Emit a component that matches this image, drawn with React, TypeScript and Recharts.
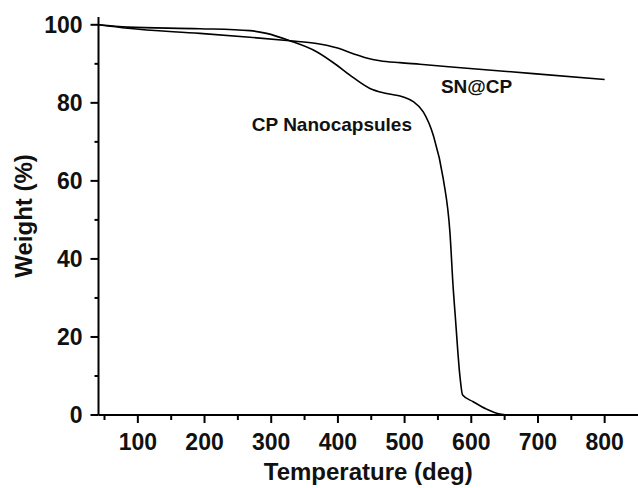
import { LineChart, Line, XAxis, YAxis, ReferenceDot } from 'recharts'

// CP Nanocapsules TGA curve
const cpTemp = [41, 85, 193, 268, 293, 328, 368, 398, 418, 448, 473, 498, 513, 528, 543, 558, 568, 573, 576, 583, 587, 603, 623, 643, 660, 800]
const cpWeight = [100, 99.4, 99.0, 98.5, 97.8, 95.9, 93.1, 89.7, 87.1, 83.7, 82.4, 81.5, 80.3, 77.7, 71.7, 60.5, 46.8, 32.2, 25.3, 9.9, 5.1, 3.4, 1.5, 0.25, 0, 0]

// SN@CP TGA curve
const snTemp = [41, 85, 193, 268, 328, 368, 398, 423, 443, 463, 493, 523, 598, 693, 800]
const snWeight = [100, 99.1, 97.8, 96.8, 95.9, 95.2, 94.1, 92.6, 91.5, 90.8, 90.3, 89.9, 88.8, 87.5, 86.0]

const xTicks = [50, 100, 150, 200, 250, 300, 350, 400, 450, 500, 550, 600, 650, 700, 750, 800]
const yTicks = [0, 10, 20, 30, 40, 50, 60, 70, 80, 90, 100]

const notes = [
  { text: 'SN@CP', t: 608, w: 84.2 },
  { text: 'CP Nanocapsules', t: 391, w: 74.6 },
]

const FONT = '"Liberation Sans", Arial, sans-serif'

const cpData = cpTemp.map((t, i) => ({ t, w: cpWeight[i] }))
const snData = snTemp.map((t, i) => ({ t, w: snWeight[i] }))

function XTick({ x, y, payload }: any) {
  const major = payload.value % 100 === 0
  return (
    <g>
      <line x1={x} y1={y} x2={x} y2={y + (major ? 8 : 5)} stroke="#000" strokeWidth={2} />
      {major && (
        <text x={x} y={y + 35} textAnchor="middle" fontSize={23} fontWeight="bold" fontFamily={FONT} fill="#111">
          {payload.value}
        </text>
      )}
    </g>
  )
}

function YTick({ x, y, payload }: any) {
  const major = payload.value % 20 === 0
  return (
    <g>
      <line x1={x - (major ? 8 : 4)} y1={y} x2={x} y2={y} stroke="#000" strokeWidth={2} />
      {major && (
        <text x={x - 16} y={y + 8} textAnchor="end" fontSize={23} fontWeight="bold" fontFamily={FONT} fill="#111">
          {payload.value}
        </text>
      )}
    </g>
  )
}

export default function App() {
  return (
    <div style={{ position: 'absolute', left: 0, top: 0, background: '#fff' }}>
      <LineChart width={638} height={488} margin={{ top: 17, right: 0, bottom: 0, left: 0 }}>
        <XAxis
          type="number"
          dataKey="t"
          domain={[41, 850]}
          ticks={xTicks}
          allowDataOverflow
          height={73}
          tickSize={0}
          tickMargin={0}
          tick={<XTick />}
          stroke="#000"
          strokeWidth={2}
          label={{
            content: ({ viewBox }: any) => (
              <text
                x={viewBox.x + viewBox.width / 2}
                y={viewBox.y + 65}
                textAnchor="middle"
                fontSize={24}
                fontWeight="bold"
                fontFamily={FONT}
                fill="#111"
              >
                Temperature (deg)
              </text>
            ),
          }}
        />
        <YAxis
          type="number"
          dataKey="w"
          domain={[0, 102]}
          ticks={yTicks}
          allowDataOverflow
          width={98.5}
          tickSize={0}
          tickMargin={0}
          tick={<YTick />}
          stroke="#000"
          strokeWidth={2}
          label={{
            content: ({ viewBox }: any) => {
              const cx = viewBox.x + 23
              const cy = viewBox.y + viewBox.height / 2
              return (
                <text
                  x={cx}
                  y={cy}
                  transform={`rotate(-90 ${cx} ${cy})`}
                  textAnchor="middle"
                  dominantBaseline="central"
                  fontSize={24}
                  fontWeight="bold"
                  fontFamily={FONT}
                  fill="#111"
                >
                  Weight (%)
                </text>
              )
            },
          }}
        />
        <Line
          data={snData}
          dataKey="w"
          type="monotone"
          stroke="#000"
          strokeWidth={1.6}
          dot={false}
          isAnimationActive={false}
        />
        <Line
          data={cpData}
          dataKey="w"
          type="monotone"
          stroke="#000"
          strokeWidth={1.6}
          dot={false}
          isAnimationActive={false}
        />
        {notes.map((n) => (
          <ReferenceDot
            key={n.text}
            x={n.t}
            y={n.w}
            r={0}
            fill="none"
            stroke="none"
            label={{
              value: n.text,
              position: 'center',
              fontSize: 19,
              fontWeight: 'bold',
              fontFamily: FONT,
              fill: '#111',
            }}
          />
        ))}
      </LineChart>
    </div>
  )
}
